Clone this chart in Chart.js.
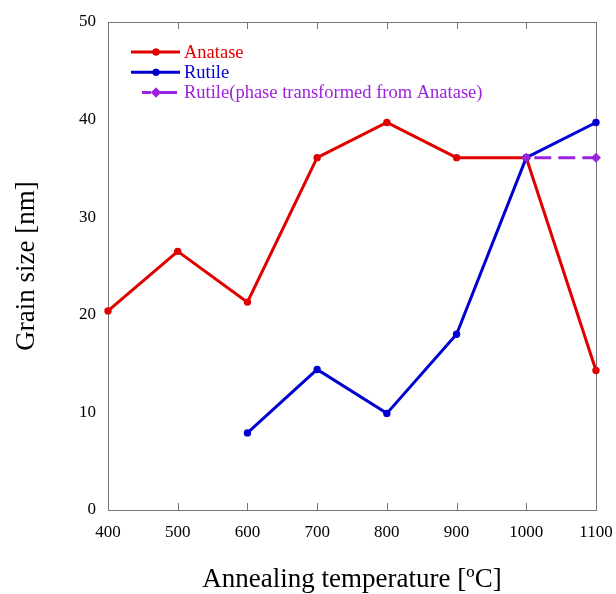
<!DOCTYPE html>
<html>
<head>
<meta charset="utf-8">
<script src="https://cdn.jsdelivr.net/npm/chart.js@4"></script>
<style>
  body { margin: 0; background: #fff; }
</style>
</head>
<body>
<canvas id="grafico" width="616" height="594"></canvas>
<script>
const temperaturas = [400, 500, 600, 700, 800, 900, 1000, 1100];
const anatasa = [20.4, 26.5, 21.3, 36.1, 39.7, 36.1, 36.1, 14.3];
const rutilo = [null, null, 7.9, 14.4, 9.9, 18.0, 36.1, 39.7];
const rutiloFase = [null, null, null, null, null, null, 36.1, 36.1];
const ticksX = [400, 500, 600, 700, 800, 900, 1000, 1100];
const ticksY = [0, 10, 20, 30, 40, 50];

const fuente = "'Liberation Serif', 'Times New Roman', serif";
const rojo = '#e00000';
const azul = '#0000d0';
const morado = '#9b22dc';

function puntos(valores) {
  return temperaturas.map((t, i) => ({ x: t, y: valores[i] }));
}

// caja y marcas internas detras de las lineas, leyenda encima
const marco = {
  id: 'marco',
  beforeDatasetsDraw(chart) {
    const ctx = chart.ctx;
    const a = chart.chartArea;
    const sx = chart.scales.x;
    ctx.save();
    ctx.strokeStyle = '#777';
    ctx.lineWidth = 1;
    ctx.strokeRect(a.left + 0.5, a.top + 0.5, a.right - a.left, a.bottom - a.top);
    ticksX.slice(1, -1).forEach(v => {
      const px = Math.round(sx.getPixelForValue(v)) + 0.5;
      ctx.beginPath();
      ctx.moveTo(px, a.top); ctx.lineTo(px, a.top + 7);
      ctx.moveTo(px, a.bottom); ctx.lineTo(px, a.bottom - 7);
      ctx.stroke();
    });
    ctx.restore();
  },
  afterDraw(chart) {
    const ctx = chart.ctx;
    const a = chart.chartArea;
    const items = [
      { texto: 'Anatase', color: rojo, dash: false, estilo: 'circle' },
      { texto: 'Rutile', color: azul, dash: false, estilo: 'circle' },
      { texto: 'Rutile(phase transformed from Anatase)', color: morado, dash: true, estilo: 'rectRot' }
    ];
    ctx.save();
    ctx.font = '18.5px ' + fuente;
    ctx.textBaseline = 'middle';
    items.forEach((it, i) => {
      const y = a.top + 30 + i * 20.3;
      const x0 = a.left + 23;
      ctx.strokeStyle = it.color;
      ctx.lineWidth = 3;
      ctx.beginPath();
      if (it.dash) {
        ctx.moveTo(x0 + 11, y); ctx.lineTo(x0 + 20, y);
        ctx.moveTo(x0 + 29, y); ctx.lineTo(x0 + 46, y);
      } else {
        ctx.moveTo(x0, y); ctx.lineTo(x0 + 49, y);
      }
      ctx.stroke();
      ctx.fillStyle = it.color;
      Chart.helpers.drawPoint(ctx, {
        pointStyle: it.estilo, radius: it.estilo === 'rectRot' ? 5 : 3.5, rotation: 0, borderWidth: 0
      }, x0 + 25, y);
      ctx.fill();
      ctx.fillText(it.texto, a.left + 76, y + 1);
    });
    ctx.restore();
  }
};

new Chart(document.getElementById('grafico'), {
  type: 'line',
  data: {
    datasets: [
      {
        label: 'Anatase', data: puntos(anatasa), order: 2,
        borderColor: rojo, backgroundColor: rojo, borderWidth: 3,
        pointRadius: 3.7, pointBorderWidth: 0, pointStyle: 'circle', clip: false
      },
      {
        label: 'Rutile', data: puntos(rutilo), order: 1,
        borderColor: azul, backgroundColor: azul, borderWidth: 3,
        pointRadius: 3.7, pointBorderWidth: 0, pointStyle: 'circle', clip: false
      },
      {
        label: 'Rutile(phase transformed from Anatase)', data: puntos(rutiloFase), order: 0,
        borderColor: morado, backgroundColor: morado, borderWidth: 3,
        borderDash: [17, 7], borderDashOffset: -8,
        pointRadius: 5, pointBorderWidth: 0, pointStyle: 'rectRot', clip: false
      }
    ]
  },
  options: {
    responsive: false,
    animation: false,
    layout: { padding: { top: 22, right: 20, left: 0, bottom: 0 } },
    plugins: { legend: { display: false }, tooltip: { enabled: false } },
    scales: {
      x: {
        type: 'linear', min: 400, max: 1100,
        afterBuildTicks: s => { s.ticks = ticksX.map(v => ({ value: v })); },
        afterFit: s => { s.height = 84; s.paddingLeft = 0; s.paddingRight = 0; },
        grid: { display: false, drawTicks: false },
        border: { display: false },
        ticks: { color: '#000', padding: 12, font: { family: fuente, size: 17 }, callback: v => String(v) },
        title: {
          display: true, text: 'Annealing temperature [ºC]', color: '#000',
          font: { family: fuente, size: 27, lineHeight: 1 }, padding: { top: 0, bottom: 1 }
        }
      },
      y: {
        min: 0, max: 50,
        afterBuildTicks: s => { s.ticks = ticksY.map(v => ({ value: v })); },
        afterFit: s => { s.width = 108; s.paddingTop = 0; s.paddingBottom = 0; },
        grid: { display: false, drawTicks: false },
        border: { display: false },
        ticks: { color: '#000', padding: 12, font: { family: fuente, size: 17 }, callback: v => String(v) },
        title: {
          display: true, text: 'Grain size [nm]', color: '#000',
          font: { family: fuente, size: 27, lineHeight: 1 }, padding: { top: 13, bottom: 0 }
        }
      }
    }
  },
  plugins: [marco]
});
</script>
</body>
</html>
